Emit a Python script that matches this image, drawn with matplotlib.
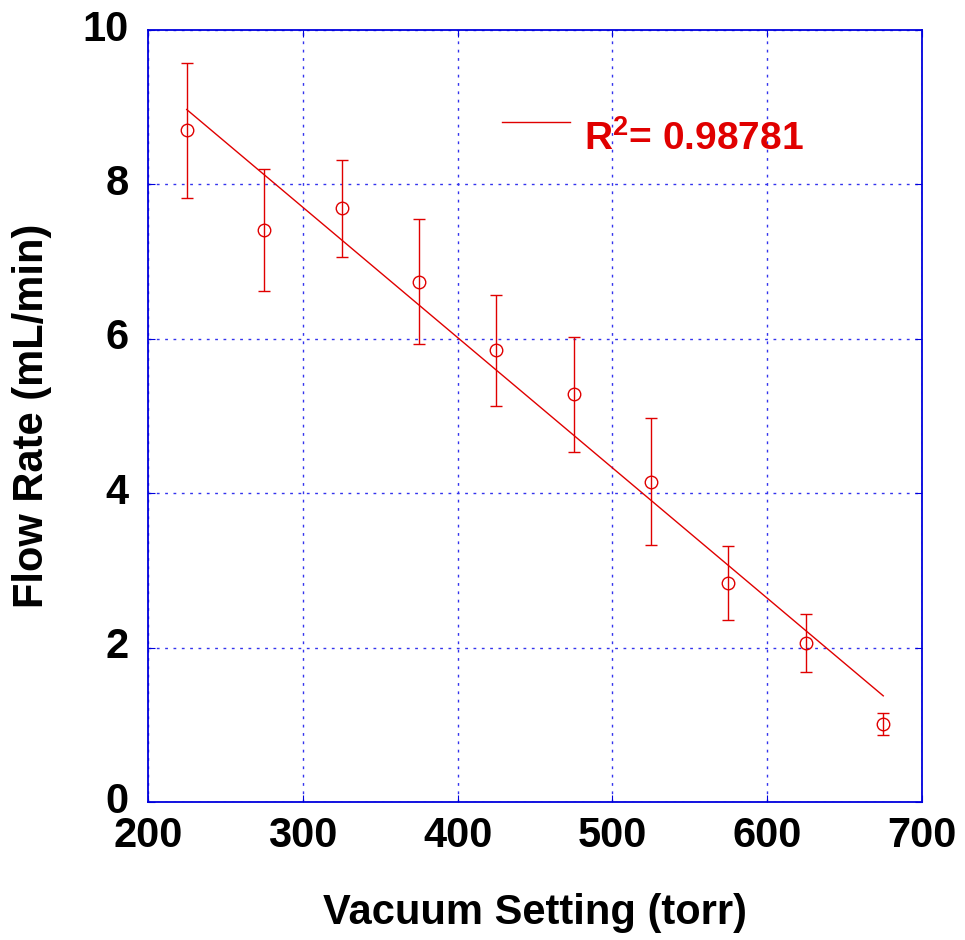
import matplotlib
matplotlib.use("Agg")
import matplotlib.pyplot as plt
import matplotlib.transforms as mtransforms
import numpy as np

plt.rcParams['font.family'] = ['Liberation Sans', 'DejaVu Sans']
plt.rcParams['mathtext.fontset'] = 'custom'
plt.rcParams['mathtext.bf'] = 'Liberation Sans:bold'
plt.rcParams['mathtext.rm'] = 'Liberation Sans'

vacuum = [225, 275, 325, 375, 425, 475, 525, 575, 625, 675]
flow = [8.70, 7.41, 7.69, 6.74, 5.85, 5.28, 4.15, 2.84, 2.06, 1.01]
flow_err = [0.88, 0.79, 0.63, 0.81, 0.72, 0.74, 0.82, 0.48, 0.38, 0.14]
r2_text = "R$^\\mathbf{2}$= 0.98781"

red = '#e00000'
blue = '#0000dd'

fig = plt.figure(figsize=(9.65, 9.4), dpi=100)
ax = fig.add_axes([0.1534, 0.1468, 0.9554 - 0.1534, 0.968 - 0.1468])

ax.errorbar(vacuum, flow, yerr=flow_err, fmt='o', mfc='none', mec=red,
            ms=9, mew=1, ecolor=red, elinewidth=1, capsize=4, capthick=1)

# linear fit
slope, icept = np.polyfit(vacuum, flow, 1)
xf = np.array([vacuum[0], vacuum[-1]])
ax.plot(xf, slope * xf + icept, color=red, lw=1)

# legend-like key
ax.plot([0.457, 0.545], [0.881, 0.881], color=red, lw=1, transform=ax.transAxes)
ax.text(0.563, 0.8446, r2_text, color=red, fontsize=28, fontweight='bold',
        va='baseline', ha='left', transform=ax.transAxes)

ax.set_xlim(200, 700)
ax.set_ylim(0, 10)
ax.set_xticks(range(200, 701, 100))
ax.set_yticks(range(0, 11, 2))
ax.grid(True, color='#3333ee', linestyle=(0, (2, 4)), linewidth=1)
for s in ax.spines.values():
    s.set_color(blue)
    s.set_linewidth(1.3)
ax.tick_params(direction='in', length=5, color=blue, top=True, right=True,
               labelsize=30)
ax.tick_params(axis='x', pad=10)
ax.tick_params(axis='y', pad=14)
shift = mtransforms.ScaledTranslation(0, 5 / 100, fig.dpi_scale_trans)
for lab in ax.get_yticklabels():
    lab.set_transform(lab.get_transform() + shift)
for lab in ax.get_xticklabels() + ax.get_yticklabels():
    lab.set_fontweight('bold')

ax.set_xlabel('Vacuum Setting (torr)', fontsize=30, fontweight='bold', labelpad=27)
ax.set_ylabel('Flow Rate (mL/min)', fontsize=30, fontweight='bold', labelpad=22)

fig.savefig('out.png', dpi=100)
